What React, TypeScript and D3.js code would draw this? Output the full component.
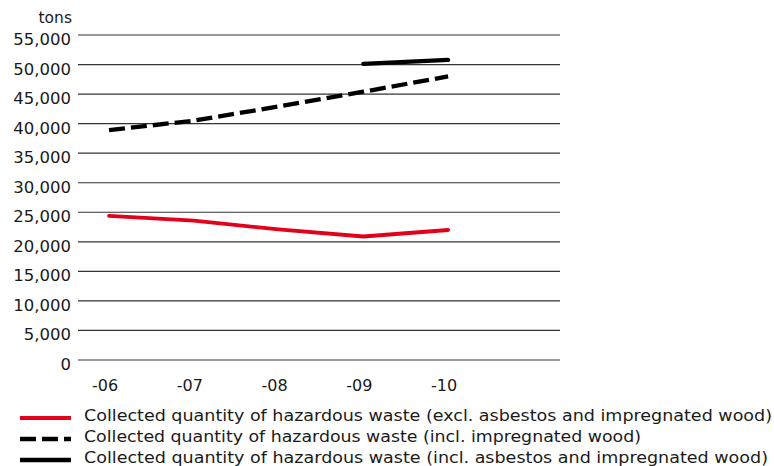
import React from "react";
import * as d3 from "d3";

// Years shown on the x axis and their tick labels
const years = [2006, 2007, 2008, 2009, 2010];
const yearLabels = ["-06", "-07", "-08", "-09", "-10"];

// Collected quantities in tons
const exclAsbestosWood = [24400, 23600, 22100, 20900, 22000];
const inclWood = [38900, 40500, 42900, 45400, 48000];
const inclAsbestosWoodYears = [2009, 2010];
const inclAsbestosWood = [50100, 50800];

const yTicks = [0, 5000, 10000, 15000, 20000, 25000, 30000, 35000, 40000, 45000, 50000, 55000];

const legendLabels = [
  "Collected quantity of hazardous waste (excl. asbestos and impregnated wood)",
  "Collected quantity of hazardous waste (incl. impregnated wood)",
  "Collected quantity of hazardous waste (incl. asbestos and impregnated wood)",
];
// Rendered widths of the legend texts
const legendWidths = [688, 557, 684];

const W = 774;
const H = 466;
const plotLeft = 78;
const plotRight = 560;
const plotTop = 35;
const plotBottom = 360;
const FONT = "'DejaVu Sans', sans-serif";
const RED = "#e2001a";
const TEXT = "#1a1a1a";

export default function App() {
  const x = d3.scaleLinear().domain([2005.634, 2011.32]).range([plotLeft, plotRight]);
  const y = d3.scaleLinear().domain([0, 55000]).range([plotBottom, plotTop]);
  const fmt = d3.format(",");

  const line = d3
    .line<[number, number]>()
    .x((d) => x(d[0]))
    .y((d) => y(d[1]));

  const redPath = line(years.map((yr, i) => [yr, exclAsbestosWood[i]]));
  const dashPath = line(years.map((yr, i) => [yr, inclWood[i]]));
  const blackPath = line(inclAsbestosWoodYears.map((yr, i) => [yr, inclAsbestosWood[i]]));

  const legendStyles = [
    { stroke: RED, dash: undefined, width: 4 },
    { stroke: "#000", dash: "16 6", width: 4.5 },
    { stroke: "#000", dash: undefined, width: 4.5 },
  ];

  return (
    <svg
      width={W}
      height={H}
      style={{ position: "absolute", left: 0, top: 0, background: "#fff" }}
      fontFamily={FONT}
    >
      {yTicks.map((t) => (
        <g key={t}>
          <line x1={plotLeft} x2={plotRight} y1={y(t)} y2={y(t)} stroke="#333" strokeWidth={1.2} />
          <text x={71} y={y(t) + 10} textAnchor="end" fontSize={16.5} fill={TEXT}>
            {fmt(t)}
          </text>
        </g>
      ))}
      <text x={72} y={23} textAnchor="end" fontSize={15.5} fill={TEXT}>
        tons
      </text>

      {years.map((yr, i) => (
        <text key={yr} x={x(yr) - 4} y={391} textAnchor="middle" fontSize={16} fill={TEXT}>
          {yearLabels[i]}
        </text>
      ))}

      <path d={redPath ?? ""} fill="none" stroke={RED} strokeWidth={3.8} strokeLinejoin="round" strokeLinecap="round" />
      <path d={dashPath ?? ""} fill="none" stroke="#000" strokeWidth={4.3} strokeDasharray="16 6" strokeLinejoin="round" />
      <path d={blackPath ?? ""} fill="none" stroke="#000" strokeWidth={4.3} strokeLinecap="round" />

      {legendLabels.map((label, i) => {
        const ly = 418 + i * 21;
        const s = legendStyles[i];
        return (
          <g key={label}>
            <line
              x1={20}
              x2={71}
              y1={ly}
              y2={ly}
              stroke={s.stroke}
              strokeWidth={s.width}
              strokeDasharray={s.dash}
              strokeLinecap="butt"
            />
            <text
              x={84}
              y={ly + 2.5}
              fontSize={16}
              fill={TEXT}
              textLength={legendWidths[i]}
              lengthAdjust="spacingAndGlyphs"
            >
              {label}
            </text>
          </g>
        );
      })}
    </svg>
  );
}
